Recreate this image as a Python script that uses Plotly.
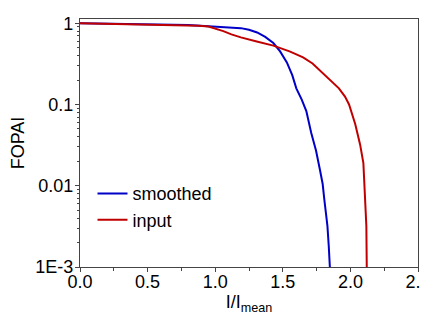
import plotly.graph_objects as go

smoothed_x = [0, 0.2, 0.4, 0.6, 0.7, 0.8, 0.95, 1.1, 1.19, 1.25, 1.31, 1.37, 1.43, 1.48, 1.53, 1.57, 1.60, 1.64, 1.674, 1.71, 1.746, 1.775, 1.795, 1.807, 1.82, 1.83, 1.84, 1.848]
smoothed_y = [1.0, 0.99, 0.98, 0.97, 0.96, 0.95, 0.92, 0.89, 0.87, 0.83, 0.77, 0.68, 0.57, 0.45, 0.33, 0.23, 0.158, 0.115, 0.083, 0.045, 0.027, 0.0156, 0.0105, 0.0068, 0.0045, 0.0032, 0.0018, 0.001]

input_x = [0, 0.2, 0.4, 0.6, 0.7, 0.8, 0.877, 0.95, 1.0, 1.06, 1.12, 1.19, 1.3, 1.43, 1.55, 1.65, 1.72, 1.79, 1.85, 1.915, 1.96, 1.99, 2.036, 2.072, 2.096, 2.109, 2.118, 2.121]
input_y = [1.0, 0.985, 0.975, 0.96, 0.95, 0.94, 0.93, 0.91, 0.86, 0.80, 0.73, 0.67, 0.60, 0.53, 0.45, 0.38, 0.32, 0.25, 0.2, 0.158, 0.125, 0.1, 0.057, 0.032, 0.019, 0.0081, 0.0032, 0.001]

x_ticks = [0.0, 0.5, 1.0, 1.5, 2.0, 2.5]
x_ticklabels = ["0.0", "0.5", "1.0", "1.5", "2.0", "2.5"]
y_ticks = [0.001, 0.01, 0.1, 1]
y_ticklabels = ["1E-3", "0.01", "0.1", "1"]
y_minor = [m * 10.0 ** d for d in (-3, -2, -1) for m in range(2, 10)]

font = dict(family="Liberation Sans, Arial, sans-serif", size=18, color="black")

fig = go.Figure()
fig.add_trace(go.Scatter(x=smoothed_x, y=smoothed_y, mode="lines", name="smoothed",
                         line=dict(color="#0000c8", width=2)))
fig.add_trace(go.Scatter(x=input_x, y=input_y, mode="lines", name="input",
                         line=dict(color="#c00000", width=2)))

axis_common = dict(showgrid=False, zeroline=False, showline=True, mirror=True,
                   linecolor="#444444", linewidth=1.3, ticks="outside", ticklen=4,
                   tickcolor="#444444", tickwidth=1.3, tickfont=font)

fig.update_xaxes(range=[0, 2.5], tickvals=x_ticks, ticktext=x_ticklabels,
                 minor=dict(ticks="outside", ticklen=3, tickcolor="#444444", dtick=0.25),
                 ticklabelstandoff=-6,
                 title=dict(text="I/I<sub>mean</sub>", font=font, standoff=0),
                 **axis_common)
fig.update_yaxes(type="log", range=[-3, 0.052], tickvals=y_ticks, ticktext=y_ticklabels,
                 minor=dict(ticks="outside", ticklen=2, tickcolor="#444444", tickvals=y_minor),
                 ticklabelstandoff=-2,
                 title=dict(text="FOPAI", font=font, standoff=9),
                 **axis_common)

fig.update_layout(width=429, height=320, margin=dict(l=69, r=15, t=6, b=61),
                  plot_bgcolor="white", paper_bgcolor="white", font=font,
                  legend=dict(x=0.037, y=0.37, xanchor="left", yanchor="top",
                              bgcolor="rgba(0,0,0,0)", font=font, tracegroupgap=0))

fig.write_html("out.html")
